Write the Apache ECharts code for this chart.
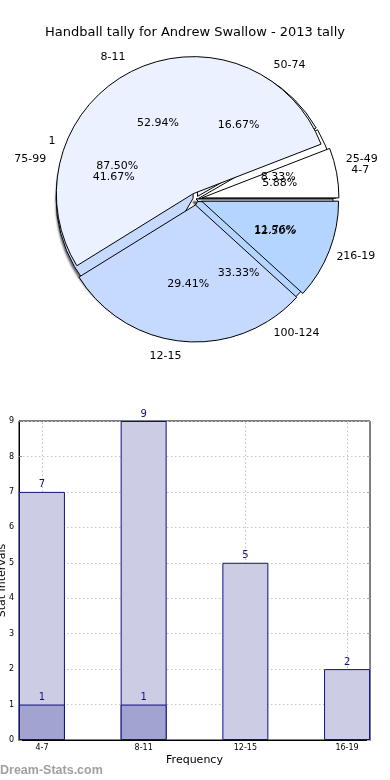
<!DOCTYPE html>
<html>
<head>
<meta charset="utf-8">
<script src="https://cdn.jsdelivr.net/npm/echarts@6/dist/echarts.min.js"></script>
<style>html,body{margin:0;padding:0;background:#fff}#c{width:390px;height:780px}</style>
</head>
<body>
<div id="c"></div>
<script>
// ---- data ----
const chartTitle = 'Handball tally for Andrew Swallow - 2013 tally';
const pie1Labels = ['4-7', '8-11', '12-15', '16-19'];
const pie1Values = [1, 9, 5, 2];
const pie2Labels = ['25-49', '50-74', '75-99', '100-124'];
const pie2Values = [1, 2, 5, 4];
const pie3Labels = ['1', '2'];
const pie3Values = [7, 1];
const barCategories = ['4-7', '8-11', '12-15', '16-19'];
const barTotals = [7, 9, 5, 2];
const barSub = [1, 1, null, null];
const yTickValues = [0, 1, 2, 3, 4, 5, 6, 7, 8, 9];

// ---- styles ----
const FONT = 'DejaVu Sans';
const pieColors = ['#ffffff', '#ebf1ff', '#c6d9ff', '#b3d5ff'];
const CX = 196, CY = 199, R = 137;

function makeData(labels, values, selected) {
  return labels.map((n, i) => ({ name: n, value: values[i], selected: selected,
    itemStyle: { color: pieColors[i % pieColors.length] } }));
}
function sumOf(a) { return a.reduce((s, v) => s + v, 0); }

function visiblePie(labels, values, offset, shadow) {
  return {
    type: 'pie', center: [CX, CY], radius: [0, R], startAngle: 0, clockwise: false,
    selectedMode: offset > 0 ? 'multiple' : false, selectedOffset: offset,
    avoidLabelOverlap: false, silent: true, animation: false,
    labelLayout: { hideOverlap: false },
    itemStyle: Object.assign({ borderColor: '#000', borderWidth: 1 },
      shadow ? { shadowColor: 'rgba(0,0,0,0.55)', shadowOffsetX: -3, shadowOffsetY: 3, shadowBlur: 2 } : {}),
    label: { show: true, position: 'outside', formatter: '{b}', color: '#000',
      fontFamily: FONT, fontSize: 11, distanceToLabelLine: 0 },
    labelLine: { show: false, length: 15, length2: 0 },
    emphasis: { disabled: true },
    data: makeData(labels, values, offset > 0)
  };
}
function pctPie(labels, values) {
  const total = sumOf(values);
  return {
    type: 'pie', center: [CX, CY], radius: [R * 0.2, R], startAngle: 0, clockwise: false,
    silent: true, animation: false, avoidLabelOverlap: false,
    labelLayout: { hideOverlap: false },
    itemStyle: { color: 'rgba(0,0,0,0)', borderWidth: 0 },
    label: { show: true, position: 'inside', color: '#000', fontFamily: FONT, fontSize: 11,
      formatter: p => (p.value / total * 100).toFixed(2) + '%' },
    labelLine: { show: false },
    emphasis: { disabled: true },
    data: labels.map((n, i) => ({ name: n, value: values[i] }))
  };
}

const chart = echarts.init(document.getElementById('c'), null, { renderer: 'canvas' });
const barBorder = '#10107f';
chart.setOption({
  animation: false,
  backgroundColor: '#fff',
  title: { text: chartTitle, left: 'center', top: 21,
    textStyle: { fontFamily: FONT, fontSize: 13, fontWeight: 'normal', color: '#000' } },
  grid: { left: 19, right: 20, top: 421, bottom: 40, show: true, borderColor: '#000', borderWidth: 1,
    containLabel: false, outerBoundsMode: 'none' },
  xAxis: {
    type: 'value', min: -0.2255, max: 3.2255,
    name: 'Frequency', nameLocation: 'middle', nameGap: 15,
    nameTextStyle: { fontFamily: FONT, fontSize: 11, color: '#000' },
    axisLine: { show: true, onZero: false, lineStyle: { color: '#000' } },
    axisTick: { show: true, inside: true, length: 3, customValues: [0, 1, 2, 3], lineStyle: { color: '#888' } },
    axisLabel: { customValues: [0, 1, 2, 3], formatter: v => barCategories[Math.round(v)] || '',
      fontFamily: FONT, fontSize: 8, color: '#000', margin: 4 },
    splitLine: { show: false }
  },
  yAxis: [{
    type: 'value', min: 0, max: 9, interval: 1,
    name: 'Stat Intervals', nameLocation: 'middle', nameGap: 11, nameRotate: 90, nameMoveOverlap: false,
    nameTextStyle: { fontFamily: FONT, fontSize: 11, color: '#000' },
    axisLine: { show: true, onZero: false, lineStyle: { color: '#000' } },
    axisTick: { show: true, inside: true, length: 3, lineStyle: { color: '#888' } },
    axisLabel: { fontFamily: FONT, fontSize: 8, color: '#000', margin: 5,
      formatter: v => yTickValues.indexOf(v) >= 0 ? String(v) : '' },
    splitLine: { show: true, lineStyle: { color: '#c4c4c4', type: [1.5, 2.5], width: 1 } }
  }, {
    type: 'value', min: 0, max: 9, interval: 1, position: 'right',
    axisLine: { show: false, onZero: false }, axisLabel: { show: false }, splitLine: { show: false },
    axisTick: { show: true, inside: true, length: 3, lineStyle: { color: '#aaa' } }
  }],
  series: [
    visiblePie(pie3Labels, pie3Values, 0, true),
    visiblePie(pie2Labels, pie2Values, 3, false),
    visiblePie(pie1Labels, pie1Values, 6, false),
    pctPie(pie3Labels, pie3Values),
    pctPie(pie2Labels, pie2Values),
    pctPie(pie1Labels, pie1Values),
    {
      type: 'bar', xAxisIndex: 0, yAxisIndex: 0, barWidth: 46, barGap: '-100%', z: 2,
      itemStyle: { color: '#ccccE5', borderColor: barBorder, borderWidth: 1 },
      label: { show: true, position: 'top', distance: 2, color: '#10107f', fontFamily: FONT, fontSize: 10 },
      emphasis: { disabled: true },
      data: barCategories.map((c, i) => [i, barTotals[i]]),
      markLine: {
        silent: true, symbol: 'none', label: { show: false }, animation: false, z: 1,
        lineStyle: { color: '#bdbdbd', type: [1.5, 2.5], width: 1 },
        data: barCategories.map((c, i) => [{ coord: [i, 0] }, { coord: [i, 9] }])
      }
    },
    {
      type: 'bar', xAxisIndex: 0, yAxisIndex: 0, barWidth: 46, barGap: '-100%', z: 3,
      itemStyle: { color: '#a3a3d0', borderColor: barBorder, borderWidth: 1 },
      label: { show: true, position: 'top', distance: 2, color: '#10107f', fontFamily: FONT, fontSize: 10 },
      emphasis: { disabled: true },
      data: barCategories.map((c, i) => barSub[i] == null ? [i, '-'] : [i, barSub[i]])
    }
  ],
  graphic: [{
    type: 'text', left: 0, top: 764,
    style: { text: 'Dream-Stats.com', fontFamily: 'Liberation Sans', fontSize: 12.5, fontWeight: 'bold', fill: '#a0a0a0' }
  }]
});
</script>
</body>
</html>
